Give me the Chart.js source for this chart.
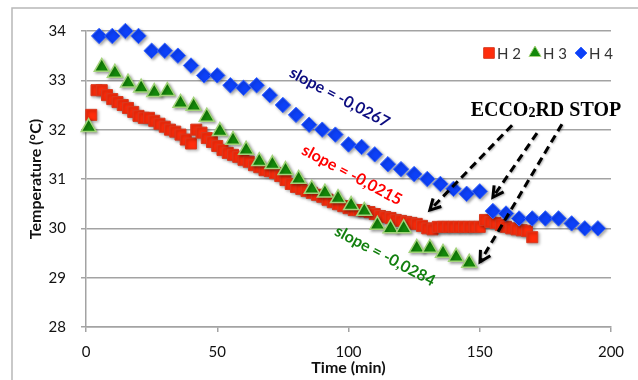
<!DOCTYPE html>
<html>
<head>
<meta charset="utf-8">
<script src="https://cdn.jsdelivr.net/npm/chart.js@4.4.0/dist/chart.umd.min.js"></script>
<style>
  html, body { margin: 0; padding: 0; background: #fff; }
</style>
</head>
<body>
<canvas id="temp-chart" width="638" height="380"></canvas>
<script>
// H 2 (red squares), sampled about every 2 min
const timeH2 = [2, 4, 6, 8, 10, 12, 14, 16, 18, 20, 22, 24, 26, 28, 30, 32, 34, 36, 38, 40,
  42, 44, 46, 48, 50, 52, 54, 56, 58, 60, 62, 64, 66, 68, 70, 72, 74, 76, 78, 80,
  82, 84, 86, 88, 90, 92, 94, 96, 98, 100, 102, 104, 106, 108, 110, 112, 114, 116, 118, 120,
  122, 124, 126, 128, 130, 132, 134, 136, 138, 140, 142, 144, 146, 148, 150, 152, 154, 156, 158, 160,
  162, 164, 166, 168, 170];
const tempH2 = [32.30, 32.80, 32.80, 32.70, 32.62, 32.56, 32.50, 32.44, 32.36, 32.28, 32.24, 32.24, 32.18, 32.12, 32.06, 32.00, 31.96, 31.90, 31.80, 31.72,
  32.00, 31.94, 31.83, 31.75, 31.67, 31.59, 31.53, 31.49, 31.45, 31.39, 31.35, 31.28, 31.24, 31.18, 31.16, 31.12, 31.06, 30.98, 30.90, 30.84,
  30.80, 30.76, 30.72, 30.68, 30.64, 30.58, 30.53, 30.49, 30.45, 30.41, 30.37, 30.37, 30.35, 30.33, 30.29, 30.25, 30.23, 30.21, 30.17, 30.15,
  30.13, 30.11, 30.09, 30.05, 30.00, 29.98, 30.03, 30.03, 30.03, 30.03, 30.03, 30.03, 30.03, 30.03, 30.03, 30.17, 30.13, 30.11, 30.07, 30.03,
  30.00, 29.98, 29.96, 29.95, 29.82];

// H 3 (green triangles)
const timeH3 = [1, 6, 11, 16, 21, 26, 31, 36, 41, 46, 51, 56, 61, 66, 71, 76, 81, 86, 91, 96,
  101, 106, 111, 116, 121, 126, 131, 136, 141, 146];
const tempH3 = [32.05, 33.27, 33.15, 32.95, 32.85, 32.76, 32.78, 32.54, 32.48, 32.26, 31.97, 31.79, 31.59, 31.36, 31.30, 31.18, 31.00, 30.80, 30.72, 30.61,
  30.47, 30.35, 30.07, 30.00, 30.00, 29.60, 29.60, 29.50, 29.42, 29.30];

// H 4 (blue diamonds)
const timeH4 = [5, 10, 15, 20, 25, 30, 35, 40, 45, 50, 55, 60, 65, 70, 75, 80, 85, 90, 95, 100,
  105, 110, 115, 120, 125, 130, 135, 140, 145, 150, 155, 160, 165, 170, 175, 180, 185, 190, 195];
const tempH4 = [33.90, 33.90, 34.00, 33.90, 33.60, 33.60, 33.50, 33.30, 33.10, 33.10, 32.90, 32.85, 32.90, 32.70, 32.50, 32.30, 32.10, 32.00, 31.90, 31.70,
  31.65, 31.50, 31.30, 31.20, 31.10, 31.00, 30.90, 30.80, 30.70, 30.75, 30.35, 30.30, 30.20, 30.20, 30.20, 30.20, 30.10, 30.00, 30.00];

const seriesLabels = ["H 2", "H 3", "H 4"];

// notes on the plot, placed in data units (min, °C)
const slopeNotes = [
  { text: "slope = -0,0267", x: 96.6, y: 32.65, color: "#0c0c80" },
  { text: "slope = -0,0215", x: 101.3, y: 31.08, color: "#ff0000" },
  { text: "slope = -0,0284", x: 113.9, y: 29.44, color: "#13800f" },
];
const stopLabel = { x: 175.2, y: 32.42 };
const stopArrows = [
  { from: [162.3, 32.09], to: [131.0, 30.37] },
  { from: [171.8, 31.93], to: [155.0, 30.63] },
  { from: [181.3, 32.11], to: [150.1, 29.32] },
];

function toPoints(xs, ys) {
  return xs.map((x, i) => ({ x: x, y: ys[i] }));
}

const gridGray = "#a3a3a3";

// white background + light outer frame
const framePlugin = {
  id: "frame",
  beforeDraw(chart) {
    const ctx = chart.ctx;
    ctx.save();
    ctx.fillStyle = "#fff";
    ctx.fillRect(0, 0, chart.width, chart.height);
    ctx.strokeStyle = "#b8b8b8";
    ctx.lineWidth = 1.5;
    ctx.beginPath();
    ctx.moveTo(12, chart.height);
    ctx.lineTo(12, 8);
    ctx.lineTo(chart.width, 8);
    ctx.stroke();
    ctx.restore();
  },
};

// soft drop shadow under the markers, like the spreadsheet
const shadowPlugin = {
  id: "markerShadow",
  beforeDatasetsDraw(chart) {
    const ctx = chart.ctx;
    ctx.save();
    ctx.shadowColor = "rgba(0,0,0,0.35)";
    ctx.shadowBlur = 3;
    ctx.shadowOffsetX = 1.5;
    ctx.shadowOffsetY = 1.5;
  },
  afterDatasetsDraw(chart) {
    chart.ctx.restore();
  },
};

function drawMarker(ctx, style, x, y, r, fill, stroke, lw) {
  ctx.beginPath();
  if (style === "rect") {
    const s = r * Math.SQRT1_2;
    ctx.rect(x - s, y - s, 2 * s, 2 * s);
  } else if (style === "triangle") {
    ctx.moveTo(x, y - r);
    ctx.lineTo(x + r * 0.866, y + r * 0.5);
    ctx.lineTo(x - r * 0.866, y + r * 0.5);
    ctx.closePath();
  } else {
    ctx.moveTo(x, y - r);
    ctx.lineTo(x + r, y);
    ctx.lineTo(x, y + r);
    ctx.lineTo(x - r, y);
    ctx.closePath();
  }
  ctx.fillStyle = fill;
  ctx.fill();
  ctx.lineWidth = lw;
  ctx.strokeStyle = stroke;
  ctx.stroke();
}

function drawArrow(ctx, x1, y1, x2, y2) {
  ctx.save();
  ctx.strokeStyle = "#000";
  ctx.lineWidth = 3;
  ctx.shadowColor = "rgba(0,0,0,0.3)";
  ctx.shadowBlur = 2;
  ctx.shadowOffsetX = 1;
  ctx.shadowOffsetY = 1;
  ctx.setLineDash([8, 5]);
  ctx.beginPath();
  ctx.moveTo(x1, y1);
  ctx.lineTo(x2, y2);
  ctx.stroke();
  ctx.setLineDash([]);
  const ang = Math.atan2(y1 - y2, x1 - x2);
  const len = 12;
  const spread = 0.5;
  ctx.beginPath();
  ctx.moveTo(x2 + len * Math.cos(ang - spread), y2 + len * Math.sin(ang - spread));
  ctx.lineTo(x2, y2);
  ctx.lineTo(x2 + len * Math.cos(ang + spread), y2 + len * Math.sin(ang + spread));
  ctx.stroke();
  ctx.restore();
}

const notesPlugin = {
  id: "notes",
  afterDraw(chart) {
    const ctx = chart.ctx;
    const xs = chart.scales.x;
    const ys = chart.scales.y;

    // slope labels
    slopeNotes.forEach((n) => {
      ctx.save();
      ctx.translate(xs.getPixelForValue(n.x), ys.getPixelForValue(n.y));
      ctx.rotate(28 * Math.PI / 180);
      ctx.font = "bold 16px Lato";
      ctx.fillStyle = n.color;
      ctx.textAlign = "center";
      ctx.textBaseline = "middle";
      ctx.fillText(n.text, 0, 0);
      ctx.restore();
    });

    // arrows
    stopArrows.forEach((a) => {
      drawArrow(ctx,
        xs.getPixelForValue(a.from[0]), ys.getPixelForValue(a.from[1]),
        xs.getPixelForValue(a.to[0]), ys.getPixelForValue(a.to[1]));
    });

    // ECCO2RD STOP, with a small 2
    ctx.save();
    const big = "bold 20px 'Liberation Serif'";
    const small = "bold 14px 'Liberation Serif'";
    ctx.font = big;
    const w1 = ctx.measureText("ECCO").width;
    const w3 = ctx.measureText("RD STOP").width;
    ctx.font = small;
    const w2 = ctx.measureText("2").width;
    const cx = xs.getPixelForValue(stopLabel.x);
    const base = ys.getPixelForValue(stopLabel.y) + 7;
    let x0 = cx - (w1 + w2 + w3) / 2;
    ctx.fillStyle = "#000";
    ctx.textBaseline = "alphabetic";
    ctx.textAlign = "left";
    ctx.font = big;
    ctx.fillText("ECCO", x0, base);
    ctx.font = small;
    ctx.fillText("2", x0 + w1, base + 1);
    ctx.font = big;
    ctx.fillText("RD STOP", x0 + w1 + w2, base);
    ctx.restore();

    // legend, top right inside the plot
    ctx.save();
    ctx.font = "15px Lato";
    ctx.textBaseline = "middle";
    ctx.textAlign = "left";
    const ly = chart.chartArea.top + 22;
    let lx = chart.chartArea.right - 128;
    chart.data.datasets.forEach((ds) => {
      drawMarker(ctx, ds.pointStyle, lx + 6, ly, ds.legendRadius, ds.backgroundColor, ds.borderColor, 1);
      lx += 14;
      ctx.fillStyle = "#333";
      ctx.fillText(ds.label, lx, ly + 1);
      lx += ctx.measureText(ds.label).width + 8;
    });
    ctx.restore();
  },
};

const ctxTemp = document.getElementById("temp-chart").getContext("2d");
const chartTemp = new Chart(ctxTemp, {
  type: "scatter",
  data: {
    datasets: [
      {
        label: seriesLabels[0],
        data: toPoints(timeH2, tempH2),
        pointStyle: "rect",
        pointRadius: 7.8,
        backgroundColor: "#ff2d0c",
        borderColor: "#d8391f",
        borderWidth: 1,
        legendRadius: 7.5,
        order: 3,
      },
      {
        label: seriesLabels[1],
        data: toPoints(timeH3, tempH3),
        pointStyle: "triangle",
        pointRadius: 8.6,
        backgroundColor: "#14890a",
        borderColor: "#a3d37a",
        borderWidth: 1.5,
        legendRadius: 7,
        order: 2,
      },
      {
        label: seriesLabels[2],
        data: toPoints(timeH4, tempH4),
        pointStyle: "rectRot",
        pointRadius: 7.7,
        backgroundColor: "#0d40f7",
        borderColor: "#3b68ff",
        borderWidth: 1,
        legendRadius: 6,
        order: 1,
      },
    ],
  },
  options: {
    responsive: false,
    animation: false,
    clip: false,
    layout: {
      padding: { left: 12, top: 31, right: 27, bottom: 0 },
    },
    plugins: {
      legend: { display: false },
      tooltip: { enabled: false },
    },
    scales: {
      x: {
        type: "linear",
        min: 0,
        max: 200,
        afterFit: (scale) => { scale.height = 53; },
        ticks: {
          stepSize: 50,
          padding: 11,
          color: "#111",
          font: { family: "Lato", size: 15 },
        },
        grid: {
          drawOnChartArea: false,
          drawTicks: true,
          tickLength: 5,
          color: gridGray,
          lineWidth: 1.5,
        },
        border: { color: gridGray, width: 1.5 },
        title: {
          display: true,
          text: "Time (min)",
          color: "#111",
          font: { family: "Lato", size: 16, weight: "bold" },
          padding: { top: 0, bottom: 3 },
        },
      },
      y: {
        min: 28,
        max: 34,
        afterFit: (scale) => { scale.width = 74; },
        ticks: {
          stepSize: 1,
          padding: 15,
          color: "#111",
          font: { family: "Lato", size: 15 },
        },
        grid: {
          tickLength: 5,
          color: gridGray,
          lineWidth: 1.5,
        },
        border: { color: gridGray, width: 1.5 },
        title: {
          display: true,
          text: "Temperature (°C)",
          color: "#111",
          font: { family: "Lato", size: 16, weight: "bold" },
          padding: { top: 14, bottom: 0 },
        },
      },
    },
  },
  plugins: [framePlugin, shadowPlugin, notesPlugin],
});
</script>
</body>
</html>
